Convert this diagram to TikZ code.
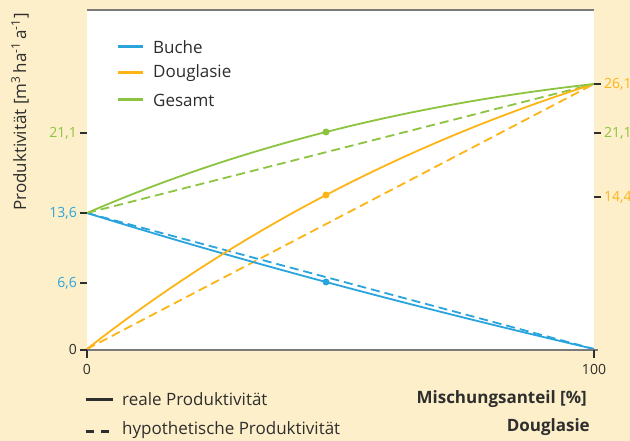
\documentclass[tikz,border=0pt]{standalone}
\usepackage{fontspec}
\setmainfont{Open Sans}
\definecolor{cream}{HTML}{FDEFC9}
\definecolor{cblue}{HTML}{2AA4DD}
\definecolor{corange}{HTML}{FDB515}
\definecolor{cgreen}{HTML}{8CC43F}
\definecolor{ctext}{HTML}{2E2E2E}
\definecolor{caxis}{HTML}{7A7A7A}
\tikzset{
  curve/.style={line width=1.8pt},
  hyp/.style={line width=1.8pt, dash pattern=on 9pt off 5pt},
  dotmark/.style={circle, fill, inner sep=0pt, minimum size=7pt},
  ticklab/.style={font=\fontsize{14}{16}\selectfont, inner sep=0pt},
  txt/.style={font=\fontsize{17}{20}\selectfont, text=ctext, inner sep=0pt},
  boldtxt/.style={font=\fontsize{17}{20}\selectfont\bfseries, text=ctext, inner sep=0pt},
  legline/.style={line width=3pt},
  tickline/.style={line width=1.2pt, draw=ctext}
}
\begin{document}
\begin{tikzpicture}[x=1pt,y=-1pt]
\useasboundingbox (0,0) rectangle (630,441);
\fill[cream] (0,0) rectangle (630,441);
\fill[white] (87,10) rectangle (594,350);
\draw[caxis, line width=2.2pt] (87,10) -- (594,10);
% key points
\coordinate (B0) at (87,213);
\coordinate (B1) at (594,349);
\coordinate (D0) at (87,349);
\coordinate (D1) at (594,84);
\coordinate (G0) at (87,213);
\coordinate (G1) at (594,84);
% hypothetical lines
\draw[hyp, cblue] (B0) -- (B1);
\draw[hyp, corange] (D0) -- (D1);
\draw[hyp, cgreen] (G0) -- (G1);
% real curves
\draw[curve, cblue] (B0) .. controls (236.7,259.7) and (405.7,305) .. (B1);
\draw[curve, corange] (D0) .. controls (236.7,232) and (405.7,143.7) .. (D1);
\draw[curve, cgreen] (G0) .. controls (236.7,148) and (405.7,105) .. (G1);
% dots
\node[dotmark, cblue] (dB) at (326,282) {};
\node[dotmark, corange] (dD) at (326,195) {};
\node[dotmark, cgreen] (dG) at (326,132) {};
% axis
\draw[caxis, line width=1.8pt] (80,350) -- (598,350);
\draw[tickline] (87,350) -- (87,358);
\draw[tickline] (594,350) -- (594,358);
\node[ticklab, text=ctext] (x0) at (87,369) {0};
\node[ticklab, text=ctext] (x100) at (594,369) {100};
% left ticks
\foreach \yy in {350,283,213,133} \draw[tickline] (80,\yy) -- (87,\yy);
\node[ticklab, anchor=east, text=ctext] (l0) at (77,349) {0};
\node[ticklab, anchor=east, text=cblue] (l66) at (77,283) {6,6};
\node[ticklab, anchor=east, text=cblue] (l136) at (77,213) {13,6};
\node[ticklab, anchor=east, text=cgreen] (l211) at (77,133) {21,1};
% right ticks
\foreach \yy in {84,133,197} \draw[tickline] (594,\yy) -- (601,\yy);
\node[ticklab, anchor=west, text=corange] (r261) at (604,84) {26,1};
\node[ticklab, anchor=west, text=cgreen] (r211) at (604,133) {21,1};
\node[ticklab, anchor=west, text=corange] (r144) at (604,197) {14,4};
% y label
\node[txt, rotate=90] (ylab) at (20,112) {Produktivität [m\textsuperscript{3}\,ha\textsuperscript{-1}\,a\textsuperscript{-1}]};
% legend top
\coordinate (lb0) at (118,47); \coordinate (lb1) at (143,47);
\coordinate (lo0) at (118,73); \coordinate (lo1) at (143,73);
\coordinate (lg0) at (118,100); \coordinate (lg1) at (143,100);
\draw[legline, cblue] (lb0) -- (lb1);
\draw[legline, corange] (lo0) -- (lo1);
\draw[legline, cgreen] (lg0) -- (lg1);
\node[txt, anchor=west] (tb) at (153,47) {Buche};
\node[txt, anchor=west] (to) at (153,73) {Douglasie};
\node[txt, anchor=west] (tg) at (153,100) {Gesamt};
% legend bottom
\coordinate (ls0) at (86,399); \coordinate (ls1) at (113,399);
\coordinate (ld0) at (86,431); \coordinate (ld1) at (113,431);
\draw[ctext, legline] (ls0) -- (ls1);
\draw[ctext, legline, dash pattern=on 8pt off 7pt] (ld0) -- (ld1);
\node[txt, anchor=west] (treal) at (122,399) {reale Produktivität};
\node[txt, anchor=west] (thyp) at (122,430) {hypothetische Produktivität};
\node[boldtxt, anchor=east] (tmix) at (587,399) {Mischungsanteil [\%]};
\node[boldtxt, anchor=east] (tdoug) at (590,427) {Douglasie};
\end{tikzpicture}
\end{document}
